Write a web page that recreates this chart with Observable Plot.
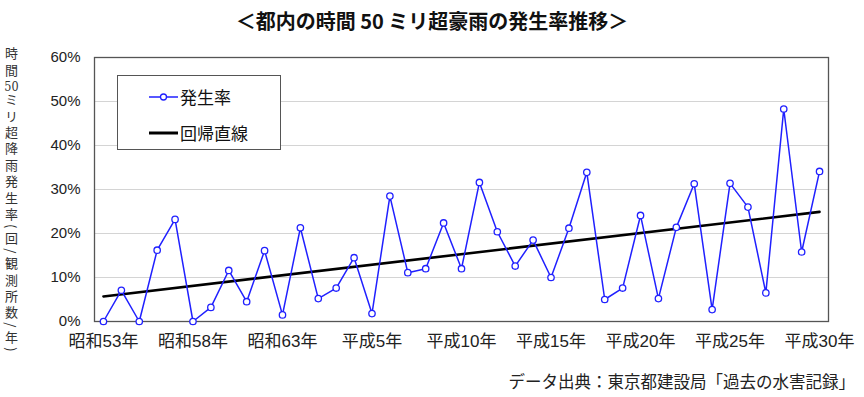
<!DOCTYPE html>
<html>
<head>
<meta charset="utf-8">
<script src="https://cdn.jsdelivr.net/npm/d3@7"></script>
<script src="https://cdn.jsdelivr.net/npm/@observablehq/plot@0.6"></script>
<style>
  html, body { margin: 0; padding: 0; background: #fff; }
  #wrap { position: relative; width: 864px; height: 397px; overflow: hidden; font-family: "Noto Sans CJK JP", "Noto Sans", sans-serif; }
  #title { position: absolute; left: 0; width: 864px; top: 6px; text-align: center; font-size: 20px; font-weight: bold; color: #111; }
  #ylabel { position: absolute; left: 5px; top: 47px; writing-mode: vertical-rl; font-size: 13px; color: #333; letter-spacing: 3.4px; line-height: 1; }
  #ylabel .tcy { text-combine-upright: all; -webkit-text-combine: horizontal; font-family: "DejaVu Serif", serif; }
  #caption { position: absolute; right: 9px; top: 369px; font-size: 16.5px; color: #222; }
  #legend { position: absolute; left: 117px; top: 75px; width: 164px; height: 75px; border: 1px solid #555; background: #fff; box-sizing: border-box; }
  #legend .row { position: absolute; left: 31px; display: flex; align-items: center; font-size: 17px; color: #111; }
  #chart { position: absolute; left: 0; top: 0; }
</style>
</head>
<body>
<div id="wrap">
  <div id="chart"></div>
  <div id="title">＜都内の時間 50 ミリ超豪雨の発生率推移＞</div>
  <div id="ylabel">時間<span class="tcy">50</span>ミリ超降雨発生率(回/観測所数/年)</div>
  <div id="legend">
    <div class="row" style="top:8px;"><svg width="29" height="12"><line x1="0" y1="6" x2="29" y2="6" stroke="#2020ff" stroke-width="1.5"/><circle cx="14.5" cy="6" r="3" fill="#fff" stroke="#2020ff" stroke-width="1.3"/></svg><span style="margin-left:2px">発生率</span></div>
    <div class="row" style="top:44px;"><svg width="29" height="12"><line x1="0" y1="6" x2="29" y2="6" stroke="#000" stroke-width="3"/></svg><span style="margin-left:2px">回帰直線</span></div>
  </div>
  <div id="caption">データ出典：東京都建設局「過去の水害記録」</div>
</div>
<script>
// Years 昭和53年 (1978) to 平成30年 (2018)
const years = d3.range(1978, 2019);
// 発生率 (%)
const rates = [0, 7.1, 0, 16.2, 23.2, 0, 3.2, 11.6, 4.5, 16.1,
               1.5, 21.3, 5.2, 7.6, 14.5, 1.8, 28.5, 11.1, 12.0, 22.4,
               12.0, 31.6, 20.4, 12.6, 18.5, 10.0, 21.2, 33.9, 5.0, 7.6,
               24.1, 5.2, 21.4, 31.3, 2.7, 31.4, 26.0, 6.5, 48.3, 15.8, 34.1];
const tickYears = [1978, 1983, 1988, 1993, 1998, 2003, 2008, 2013, 2018];
const tickLabels = ["昭和53年", "昭和58年", "昭和63年", "平成5年", "平成10年", "平成15年", "平成20年", "平成25年", "平成30年"];
const yTicks = [0, 10, 20, 30, 40, 50, 60];

const data = years.map((y, i) => ({year: y, rate: rates[i]}));
const labelOf = new Map(tickYears.map((y, i) => [y, tickLabels[i]]));

const chart = Plot.plot({
  width: 864,
  height: 360,
  marginLeft: 94,
  marginRight: 36,
  marginTop: 57,
  marginBottom: 39,
  style: {fontFamily: "\"Liberation Sans\", \"Noto Sans CJK JP\", sans-serif", fontSize: "15px", color: "#222", background: "transparent"},
  x: {domain: [1977.5, 2018.5], ticks: tickYears, tickFormat: d => labelOf.get(d), tickSize: 0, tickPadding: 13, label: null},
  y: {domain: [0, 60], ticks: yTicks, tickFormat: d => d + "%", tickSize: 0, tickPadding: 14, label: null},
  marks: [
    Plot.gridY(yTicks, {stroke: "#d4d4d4", strokeOpacity: 1, strokeWidth: 1.2}),
    Plot.frame({stroke: "#555", strokeWidth: 1.3}),
    Plot.linearRegressionY(data, {x: "year", y: "rate", stroke: "#000", strokeWidth: 2.6, ci: 0}),
    Plot.line(data, {x: "year", y: "rate", stroke: "#2020ff", strokeWidth: 1.5}),
    Plot.dot(data, {x: "year", y: "rate", r: 3.2, fill: "#fff", stroke: "#2020ff", strokeWidth: 1.3})
  ]
});
chart.querySelectorAll("g[aria-label='x-axis tick label'] text").forEach(t => { t.style.fontSize = "17px"; t.style.fontFamily = "\"Liberation Sans\", \"Noto Sans CJK JP\", sans-serif"; });
document.getElementById("chart").appendChild(chart);
</script>
</body>
</html>
